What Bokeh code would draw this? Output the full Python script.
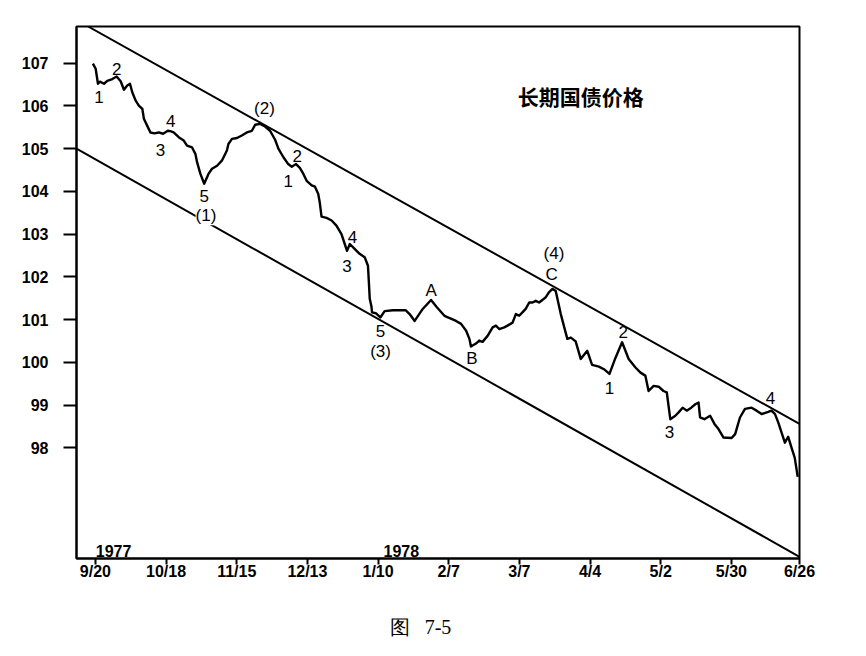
from bokeh.plotting import figure
from bokeh.models import Range1d, FixedTicker, Label, LabelSet, ColumnDataSource
from bokeh.core.properties import value
from bokeh.embed import file_html
from bokeh.resources import INLINE

# ---- data (x = days since 9/20/1977, y = price) ----
days = [-1.0, 0.1, 1.0, 1.8, 3.4, 4.7, 6.7, 8.4, 10.0, 11.3, 12.6, 13.7, 14.6, 15.9, 17.2, 18.6,
        19.2, 20.5, 21.8, 23.4, 25.1, 26.8, 28.7, 29.7, 31.0, 33.0, 35.0, 36.3, 38.3, 39.6, 40.3,
        41.6, 43.1, 44.8, 46.2, 48.2, 50.1, 52.1, 52.7, 54.1, 56.1, 58.0, 60.0, 62.0, 63.3, 65.3,
        67.2, 69.2, 71.2, 72.5, 74.5, 76.4, 77.8, 79.5, 81.0, 82.4, 83.7, 85.7, 87.0, 88.3, 88.9,
        89.6, 91.6, 93.6, 95.5, 97.5, 98.8, 99.7, 100.8, 102.8, 104.7, 106.7, 108.0, 108.4, 108.7,
        109.4, 109.6, 111.1, 112.9, 114.6, 117.9, 122.9, 124.5, 126.5, 129.7, 133.0, 135.3, 138.3,
        142.9, 144.9, 146.9, 148.2, 148.8, 150.8, 152.1, 153.4, 155.4, 157.4, 158.7, 160.0, 162.0,
        163.3, 165.3, 166.6, 167.9, 169.2, 170.5, 171.9, 173.2, 174.5, 175.8, 177.1, 178.4, 179.7,
        181.1, 182.4, 184.4, 187.0, 188.4, 190.3, 192.3, 194.9, 196.8, 199.5, 201.5, 203.7, 206.1,
        208.7, 211.3, 214.0, 216.0, 217.9, 219.2, 221.2, 223.2, 225.1, 226.4, 227.8, 229.8, 231.1,
        232.7, 234.3, 236.1, 237.7, 239.0, 239.6, 241.3, 243.6, 245.3, 246.9, 248.9, 252.1, 253.5,
        255.4, 257.4, 260.0, 262.0, 264.0, 266.6, 267.9, 269.3, 270.6, 273.2, 274.5, 275.8, 277.1,
        278.3]
prices = [106.99, 106.87, 106.52, 106.57, 106.52, 106.59, 106.63, 106.69, 106.58, 106.38, 106.48,
          106.52, 106.32, 106.13, 106.01, 105.93, 105.70, 105.54, 105.38, 105.36, 105.38, 105.35,
          105.42, 105.41, 105.38, 105.27, 105.19, 105.07, 105.03, 104.88, 104.68, 104.41, 104.18,
          104.41, 104.53, 104.60, 104.72, 104.96, 105.11, 105.23, 105.25, 105.31, 105.38, 105.42,
          105.56, 105.58, 105.52, 105.42, 105.21, 105.00, 104.80, 104.64, 104.58, 104.64, 104.55,
          104.41, 104.25, 104.14, 104.11, 103.94, 103.74, 103.41, 103.38, 103.32, 103.20, 103.00,
          102.77, 102.61, 102.77, 102.65, 102.54, 102.46, 102.26, 101.83, 101.49, 101.30, 101.17,
          101.15, 101.05, 101.20, 101.22, 101.22, 101.13, 100.97, 101.25, 101.46, 101.29, 101.09,
          100.97, 100.90, 100.74, 100.55, 100.37, 100.44, 100.51, 100.48, 100.62, 100.82, 100.86,
          100.78, 100.82, 100.86, 100.93, 101.13, 101.09, 101.17, 101.25, 101.40, 101.40, 101.44,
          101.40, 101.46, 101.52, 101.64, 101.72, 101.67, 101.13, 100.55, 100.58, 100.49, 100.08,
          100.27, 99.94, 99.90, 99.84, 99.73, 100.11, 100.47, 100.08, 99.88, 99.76, 99.69, 99.33,
          99.45, 99.43, 99.33, 99.30, 98.67, 98.75, 98.83, 98.94, 98.87, 98.94, 99.02, 99.06,
          98.71, 98.67, 98.75, 98.56, 98.44, 98.24, 98.23, 98.32, 98.71, 98.91, 98.94, 98.87,
          98.79, 98.84, 98.87, 98.79, 98.59, 98.12, 98.26, 98.01, 97.77, 97.32]

# channel lines
upper_x = [-2.9, 279.0]
upper_y = [107.86, 98.56]
lower_x = [-7.5, 279.0]
lower_y = [105.0, 95.45]

# wave labels
wave_text = ["1", "2", "3", "4", "5", "(2)", "1", "2", "3", "4", "5", "(3)",
             "A", "B", "C", "(4)", "1", "2", "3", "4"]
wave_x = [1.4, 8.4, 25.8, 29.8, 43.1, 67.0, 76.4, 80.0, 99.7, 101.9, 113.0, 113.0,
          133.0, 149.2, 180.8, 181.7, 203.7, 209.1, 227.5, 267.5]
wave_y = [106.20, 106.87, 104.96, 105.66, 103.90, 105.93, 104.25, 104.84, 102.26, 102.94,
          100.73, 100.26, 101.68, 100.10, 102.05, 102.54, 99.41, 100.72, 98.36, 99.16]
wave1_text, wave1_x, wave1_y = "(1)", 43.8, 103.43

# axis ticks
xtick_days = [0, 28, 56, 84, 112, 140, 168, 196, 224, 252, 279]
xtick_labels = ["9/20", "10/18", "11/15", "12/13", "1/10", "2/7", "3/7", "4/4", "5/2", "5/30", "6/26"]
ytick_vals = [98, 99, 100, 101, 102, 103, 104, 105, 106, 107]
year_text = ["1977", "1978"]
year_x = [7.2, 121.2]
year_y = 95.58

title_text = "长期国债价格"
# trailing no-break spaces shift the centred caption to the left like the original
caption_text = "图\u00a0\u00a0\u00a07-5" + "\u00a0" * 7

FONT = "Liberation Sans"

p = figure(width=850, height=640, x_range=Range1d(-7.5, 279), y_range=Range1d(95.41, 107.86),
           output_backend="svg", toolbar_location=None,
           min_border_left=76, min_border_right=51, min_border_top=26, min_border_bottom=82)
p.xgrid.visible = False
p.ygrid.visible = False
p.outline_line_color = "black"
p.outline_line_width = 2
p.outline_line_alpha = 1
p.background_fill_color = "white"
p.border_fill_color = "white"

p.xaxis.ticker = FixedTicker(ticks=xtick_days)
p.xaxis.major_label_overrides = {d: l for d, l in zip(xtick_days, xtick_labels)}
p.yaxis.ticker = FixedTicker(ticks=ytick_vals)
for ax in (p.xaxis[0], p.yaxis[0]):
    ax.axis_line_width = 2
    ax.axis_line_color = "black"
    ax.major_tick_line_width = 2
    ax.major_tick_line_color = "black"
    ax.minor_tick_line_color = None
    ax.major_tick_in = 0
    ax.major_label_text_font = FONT
    ax.major_label_text_font_style = "bold"
    ax.major_label_text_color = "black"
p.yaxis.major_tick_out = 13
p.yaxis.major_label_standoff = 15
p.yaxis.major_label_text_font_size = "16px"
p.xaxis.major_tick_out = 6
p.xaxis.major_label_standoff = -2
p.xaxis.major_label_text_font_size = "16px"
p.xaxis.axis_label = caption_text
p.xaxis.axis_label_standoff = 33
p.xaxis.axis_label_text_font = "Liberation Serif"
p.xaxis.axis_label_text_font_size = "20px"
p.xaxis.axis_label_text_font_style = "normal"
p.xaxis.axis_label_text_color = "black"

p.line(upper_x, upper_y, line_color="black", line_width=2)
p.line(lower_x, lower_y, line_color="black", line_width=2)
p.line(days, prices, line_color="black", line_width=2.4, line_join="round")

src = ColumnDataSource(dict(x=wave_x, y=wave_y, t=wave_text))
p.add_layout(LabelSet(x="x", y="y", text="t", source=src, text_align="center",
                      text_baseline="middle", text_font=value(FONT), text_font_size="17px",
                      text_color="black"))
p.add_layout(Label(x=wave1_x, y=wave1_y, text=wave1_text, text_align="center",
                   text_baseline="middle", text_font=FONT, text_font_size="17px",
                   background_fill_color="white", text_color="black"))
for t, x in zip(year_text, year_x):
    p.add_layout(Label(x=x, y=year_y, text=t, text_align="center", text_baseline="middle",
                       text_font=FONT, text_font_size="16px", text_font_style="bold",
                       text_color="black"))
p.add_layout(Label(x=192.3, y=106.24, text=title_text, text_align="center", text_baseline="middle",
                   text_font="Noto Sans CJK SC", text_font_size="21px", text_font_style="bold",
                   text_color="black"))

open("out.html", "w").write(file_html(p, INLINE))
